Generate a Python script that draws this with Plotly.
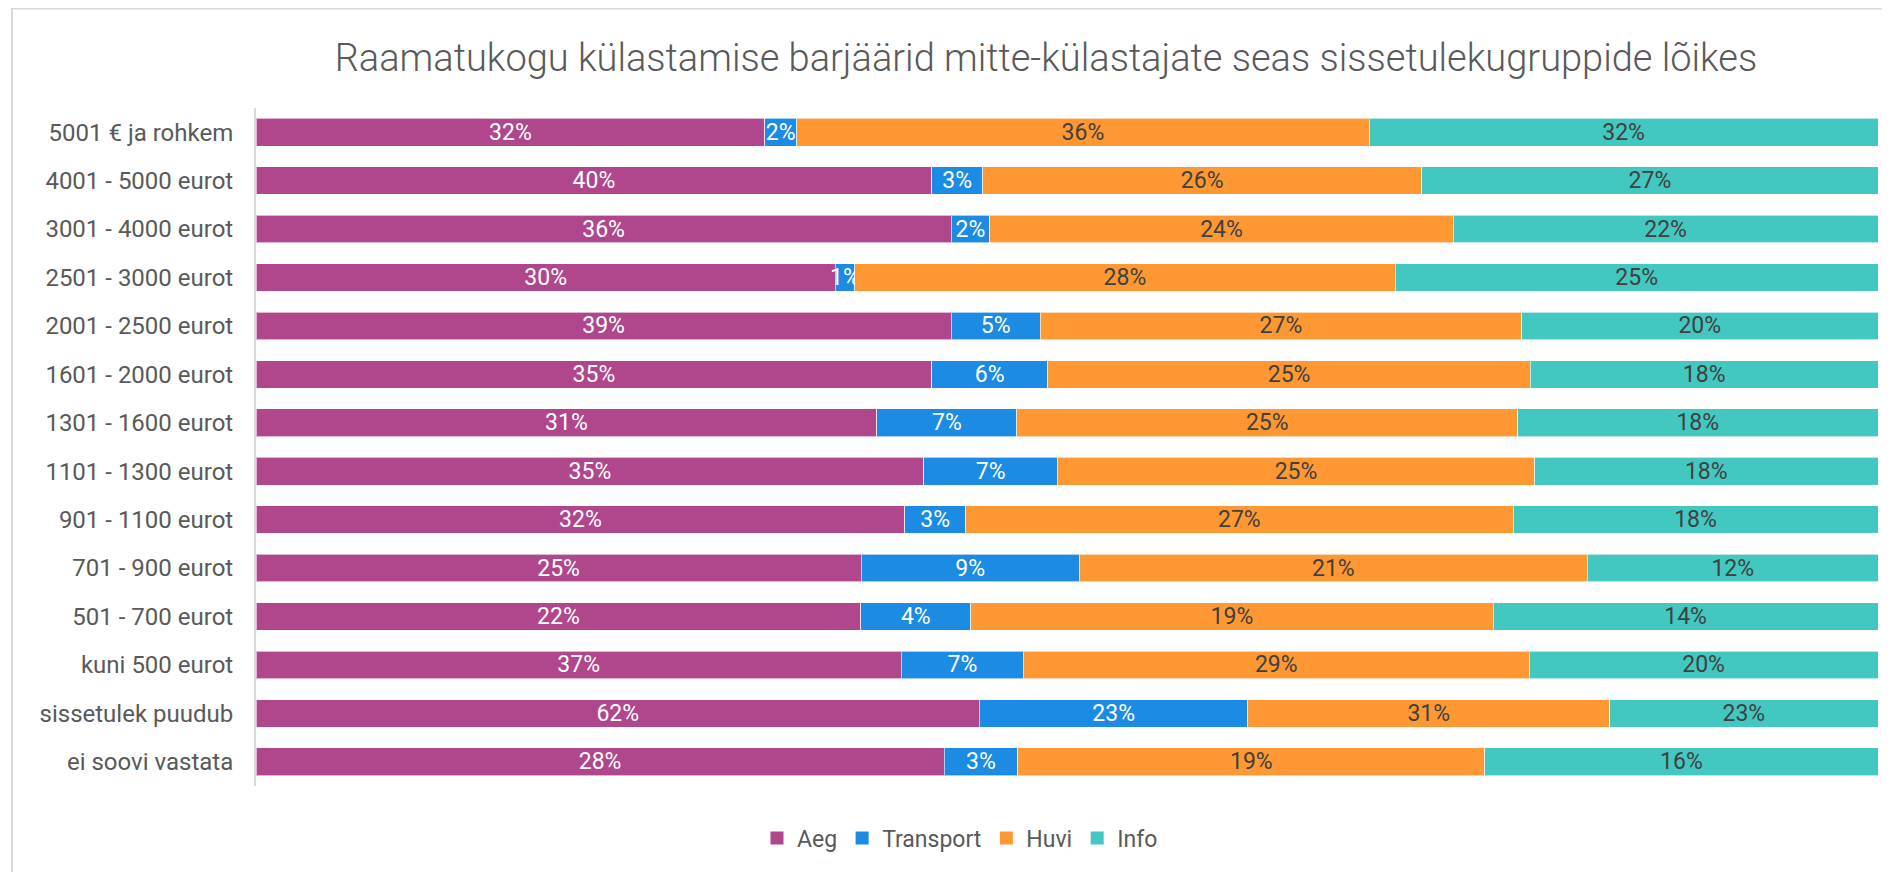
import plotly.graph_objects as go

categories = ["5001 € ja rohkem", "4001 - 5000 eurot", "3001 - 4000 eurot", "2501 - 3000 eurot",
              "2001 - 2500 eurot", "1601 - 2000 eurot", "1301 - 1600 eurot", "1101 - 1300 eurot",
              "901 - 1100 eurot", "701 - 900 eurot", "501 - 700 eurot", "kuni 500 eurot",
              "sissetulek puudub", "ei soovi vastata"]
aeg = [32, 40, 36, 30, 39, 35, 31, 35, 32, 25, 22, 37, 62, 28]
transport = [2, 3, 2, 1, 5, 6, 7, 7, 3, 9, 4, 7, 23, 3]
huvi = [36, 26, 24, 28, 27, 25, 25, 25, 27, 21, 19, 29, 31, 19]
info = [32, 27, 22, 25, 20, 18, 18, 18, 18, 12, 14, 20, 23, 16]

series = [("Aeg", aeg, "#B0478D", "white"),
          ("Transport", transport, "#1B8BE3", "white"),
          ("Huvi", huvi, "#FF9833", "#404040"),
          ("Info", info, "#42C8C0", "#404040")]

FONT = "Roboto"
OFF = 8  # browser body margin
fig = go.Figure()
for name, vals, color, tcolor in series:
    fig.add_trace(go.Bar(
        y=categories, x=vals, name=name, orientation="h", showlegend=False,
        marker=dict(color=color, line=dict(color="rgba(255,255,255,0.6)", width=1)),
        text=[f"{v}%" for v in vals], textposition="inside", insidetextanchor="middle",
        textangle=0,
        textfont=dict(family=FONT, size=23, color=tcolor),
        hoverinfo="skip",
    ))
# legend entries with square swatches
for name, vals, color, tcolor in series:
    fig.add_trace(go.Scatter(
        x=[None], y=[None], mode="markers", name=name,
        marker=dict(symbol="square", size=13, color=color),
        hoverinfo="skip",
    ))

W, H = 1890 - OFF, 872 - OFF
L, R, T, B = 256 - OFF, 12, 108 - OFF, 86
pw, ph = W - L - R, H - T - B

fig.update_layout(
    width=W, height=H,
    barmode="stack", barnorm="fraction", bargap=0.43,
    margin=dict(l=L, r=R, t=T, b=B),
    paper_bgcolor="white", plot_bgcolor="white",
    font=dict(family=FONT, color="#595959"),
    uniformtext=dict(minsize=23, mode="show"),
    title=dict(text="Raamatukogu külastamise barjäärid mitte-külastajate seas sissetulekugruppide lõikes",
               x=(1046 - OFF - L) / pw, xref="paper", xanchor="center",
               y=1 - (58 - OFF) / H, yanchor="middle",
               font=dict(family=FONT, size=38, color="#595959", weight=300)),
    legend=dict(orientation="h", x=(960 - OFF - L) / pw, xanchor="center",
                y=-(838 - 786) / ph, yanchor="middle",
                font=dict(family=FONT, size=23, color="#595959"), traceorder="normal",
                itemwidth=30, tracegroupgap=0),
    xaxis=dict(range=[0, 1], showgrid=False, showticklabels=False, zeroline=False, fixedrange=True),
    yaxis=dict(autorange="reversed", showline=True, linecolor="#D9D9D9", linewidth=2,
               ticks="", ticklabelstandoff=16, showgrid=False, zeroline=False,
               tickfont=dict(family=FONT, size=24, color="#595959")),
    shapes=[dict(type="rect", xref="paper", yref="paper",
                 x0=(12 - OFF - L) / pw, x1=(W + 20 - L) / pw,
                 y0=-(H + 20 - T - ph) / ph, y1=1 + (T - (8.5 - OFF)) / ph,
                 line=dict(color="#D9D9D9", width=2), fillcolor="rgba(0,0,0,0)", layer="below")],
)
fig.write_html("out.html")
